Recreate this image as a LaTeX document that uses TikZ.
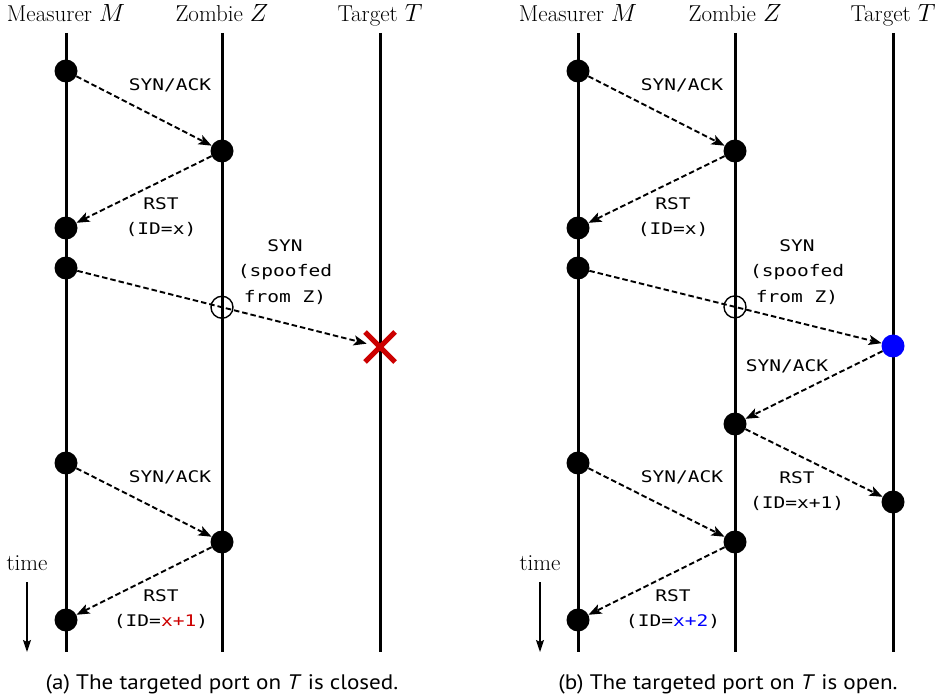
\documentclass[tikz,border=0pt]{standalone}
\usepackage{fontspec}
\usetikzlibrary{arrows.meta,calc}
\newfontfamily\monof[FakeStretch=1.22]{DejaVu Sans Mono}
\newfontfamily\capf[FakeStretch=1.1]{PT Sans}
\definecolor{xred}{RGB}{204,0,0}
\definecolor{xblue}{RGB}{0,0,255}
\tikzset{
  life/.style={line width=3pt},
  ev/.style={circle, fill=black, inner sep=0pt, minimum size=23pt},
  evblue/.style={ev, fill=xblue},
  hollow/.style={circle, draw=black, line width=1.4pt, inner sep=0pt, minimum size=22pt},
  sink/.style={circle, inner sep=0pt, minimum size=27pt},
  msg/.style={line width=1.9pt, dash pattern=on 5.5pt off 3pt, -{Stealth[length=13pt,width=10pt,inset=3pt]}},
  lbl/.style={font=\monof\fontsize{16}{25.5}\selectfont, align=center, inner sep=0pt},
  hdr/.style={font=\fontsize{23}{27}\selectfont, inner sep=0pt, anchor=base},
  captext/.style={font=\capf\fontsize{21}{25}\selectfont, inner sep=0pt, anchor=base},
  timearrow/.style={line width=1.4pt, -{Stealth[length=12pt,width=8pt,inset=2pt]}},
  cross/.style={xred, line width=5pt}
}
\begin{document}
\begin{tikzpicture}[x=1pt,y=-1pt]
\useasboundingbox (0,0) rectangle (942,700);
% ---------- panel (a) ----------
\node[hdr] (aMh) at (66,22) {Measurer $M$};
\node[hdr] (aZh) at (222,22) {Zombie $Z$};
\node[hdr] (aTh) at (380,22) {Target $T$};
\coordinate (aMt) at (66,33);  \coordinate (aMb) at (66,652);
\coordinate (aZt) at (222,33); \coordinate (aZb) at (222,652);
\coordinate (aTt) at (380,33); \coordinate (aTb) at (380,652);
\draw[life] (aMt) -- (aMb);
\draw[life] (aZt) -- (aZb);
\draw[life] (aTt) -- (aTb);
\node[ev] (a1) at (66,71) {};
\node[ev] (a2) at (222,151) {};
\node[ev] (a3) at (66,228) {};
\node[ev] (a4) at (66,268) {};
\node[sink] (ax) at (380,347) {};
\node[ev] (a5) at (66,463) {};
\node[ev] (a6) at (222,542) {};
\node[ev] (a7) at (66,620) {};
\draw[msg] (a1) -- (a2);
\draw[msg] (a2) -- (a3);
\draw[msg] (a4) -- (ax);
\node[hollow] (ac) at ($(a4)!0.4968!(ax)$) {};
\draw[cross] ($(ax)+(-15,-15)$) -- ($(ax)+(15,15)$);
\draw[cross] ($(ax)+(-15,15)$) -- ($(ax)+(15,-15)$);
\draw[msg] (a5) -- (a6);
\draw[msg] (a6) -- (a7);
\node[lbl] (al1) at (170,85.5) {SYN/ACK};
\node[lbl] (al2) at (161,217) {RST\\(ID=x)};
\node[lbl] (al3) at (285,272) {SYN\\(spoofed\\from Z)};
\node[lbl] (al4) at (170,477) {SYN/ACK};
\node[lbl] (al5) at (161,609) {RST\\(ID=\textcolor{xred}{x+1})};
\node[hdr] (atime) at (27,570) {time};
\coordinate (ata) at (27,582); \coordinate (atb) at (27,652);
\draw[timearrow] (ata) -- (atb);
\node[captext] (acap) at (222,689) {(a) The targeted port on \textit{T} is closed.};
% ---------- panel (b) ----------
\node[hdr] (bMh) at (578,22) {Measurer $M$};
\node[hdr] (bZh) at (735,22) {Zombie $Z$};
\node[hdr] (bTh) at (893,22) {Target $T$};
\coordinate (bMt) at (578,33); \coordinate (bMb) at (578,652);
\coordinate (bZt) at (735,33); \coordinate (bZb) at (735,652);
\coordinate (bTt) at (893,33); \coordinate (bTb) at (893,652);
\draw[life] (bMt) -- (bMb);
\draw[life] (bZt) -- (bZb);
\draw[life] (bTt) -- (bTb);
\node[ev] (b1) at (578,71) {};
\node[ev] (b2) at (735,151) {};
\node[ev] (b3) at (578,228) {};
\node[ev] (b4) at (578,268) {};
\node[evblue] (bt) at (893,346) {};
\node[ev] (bz) at (735,424) {};
\node[ev] (bt2) at (893,502) {};
\node[ev] (b5) at (578,463) {};
\node[ev] (b6) at (735,542) {};
\node[ev] (b7) at (578,620) {};
\draw[msg] (b1) -- (b2);
\draw[msg] (b2) -- (b3);
\draw[msg] (b4) -- (bt);
\node[hollow] (bc) at ($(b4)!0.4984!(bt)$) {};
\draw[msg] (bt) -- (bz);
\draw[msg] (bz) -- (bt2);
\draw[msg] (b5) -- (b6);
\draw[msg] (b6) -- (b7);
\node[lbl] (bl1) at (682,85.5) {SYN/ACK};
\node[lbl] (bl2) at (673,217) {RST\\(ID=x)};
\node[lbl] (bl3) at (797,272) {SYN\\(spoofed\\from Z)};
\node[lbl] (bl6) at (787,366) {SYN/ACK};
\node[lbl] (bl7) at (797,491) {RST\\(ID=x+1)};
\node[lbl] (bl4) at (682,477) {SYN/ACK};
\node[lbl] (bl5) at (673,609) {RST\\(ID=\textcolor{xblue}{x+2})};
\node[hdr] (btime) at (540,570) {time};
\coordinate (bta) at (540,582); \coordinate (btb) at (540,652);
\draw[timearrow] (bta) -- (btb);
\node[captext] (bcap) at (728,689) {(b) The targeted port on \textit{T} is open.};
\end{tikzpicture}
\end{document}
